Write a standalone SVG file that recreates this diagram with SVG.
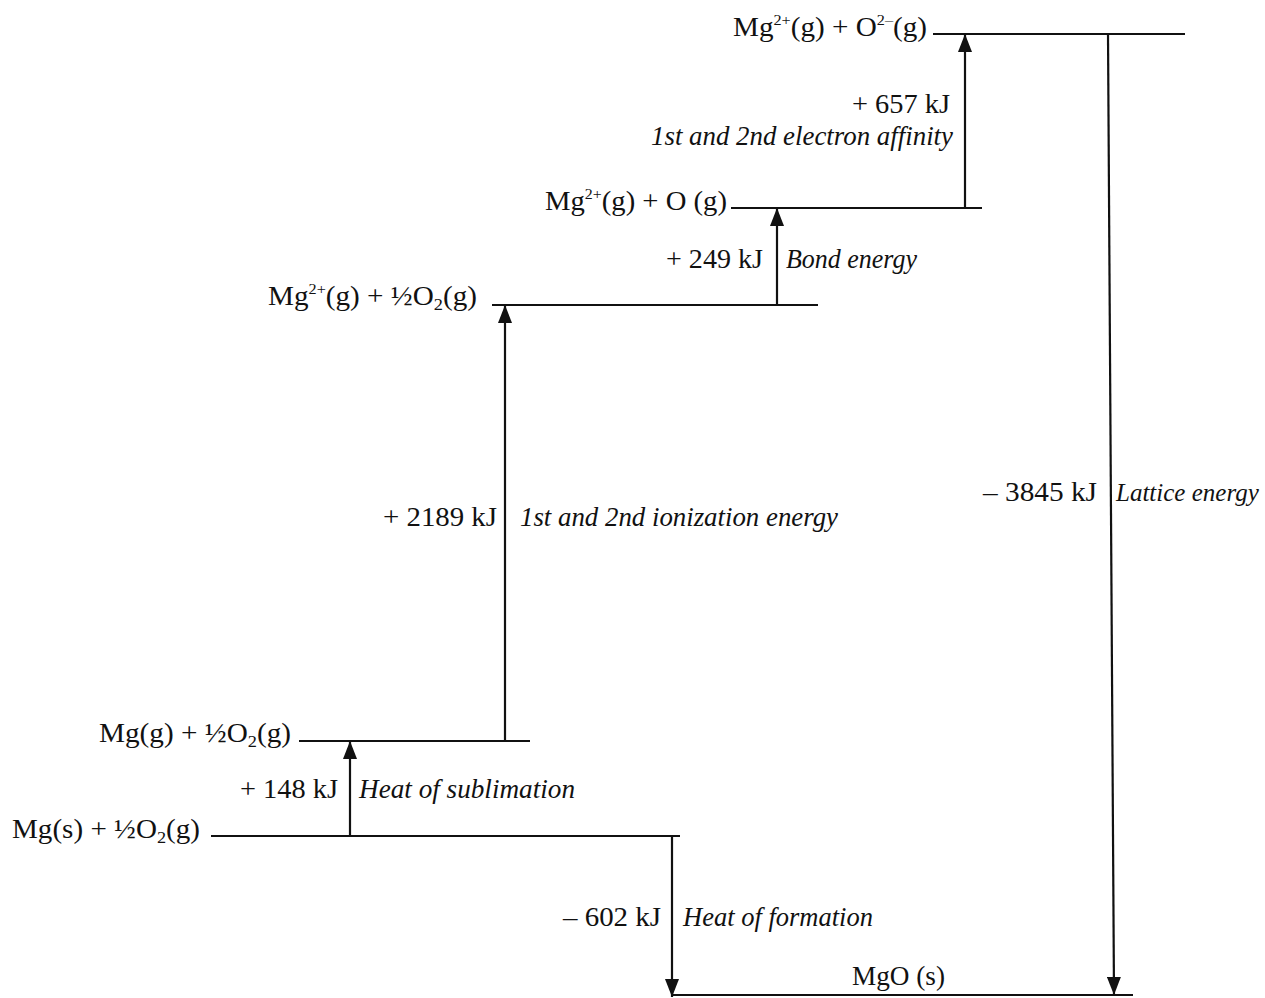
<svg xmlns="http://www.w3.org/2000/svg" width="1265" height="998" viewBox="0 0 1265 998">
<defs>
<style>
text{font-family:"Liberation Serif","Times New Roman",serif;font-size:27px;fill:#111}
.it{font-style:italic}
.sup{font-size:15px}
.sub{font-size:17px}
.lvl{stroke:#111;stroke-width:2.2;fill:none}
.arr{stroke:#111;stroke-width:2.2;fill:none;marker-end:url(#ah)}
</style>
<marker id="ah" viewBox="0 0 18 14" refX="18" refY="7" markerWidth="18" markerHeight="14" markerUnits="userSpaceOnUse" orient="auto">
<path d="M0,0 L18,7 L0,14 z" fill="#111"/>
</marker>
</defs>
<rect width="1265" height="998" fill="#fff"/>

<g id="level-ions">
<line class="lvl" x1="933" y1="34" x2="1185" y2="34"/>
<text x="733" y="36" textLength="194" lengthAdjust="spacingAndGlyphs">Mg<tspan class="sup" dy="-11">2+</tspan><tspan dy="11">(g) + O</tspan><tspan class="sup" dy="-11">2–</tspan><tspan dy="11">(g)</tspan></text>
</g>

<g id="level-atomO">
<line class="lvl" x1="731" y1="208" x2="982" y2="208"/>
<text x="545" y="210" textLength="182" lengthAdjust="spacingAndGlyphs">Mg<tspan class="sup" dy="-11">2+</tspan><tspan dy="11">(g) + O (g)</tspan></text>
</g>

<g id="level-mgion">
<line class="lvl" x1="492" y1="305" x2="818" y2="305"/>
<text x="268" y="305" textLength="209" lengthAdjust="spacingAndGlyphs">Mg<tspan class="sup" dy="-11">2+</tspan><tspan dy="11">(g) + ½O</tspan><tspan class="sub" dy="5">2</tspan><tspan dy="-5">(g)</tspan></text>
</g>

<g id="level-mggas">
<line class="lvl" x1="299" y1="741" x2="530" y2="741"/>
<text x="99" y="742" textLength="192" lengthAdjust="spacingAndGlyphs">Mg(g) + ½O<tspan class="sub" dy="5">2</tspan><tspan dy="-5">(g)</tspan></text>
</g>

<g id="level-mgsolid">
<line class="lvl" x1="211" y1="836" x2="680" y2="836"/>
<text x="12" y="838" textLength="188" lengthAdjust="spacingAndGlyphs">Mg(s) + ½O<tspan class="sub" dy="5">2</tspan><tspan dy="-5">(g)</tspan></text>
</g>

<g id="level-mgo">
<line class="lvl" x1="672" y1="995" x2="1133" y2="995"/>
<text x="852" y="985" textLength="93" lengthAdjust="spacingAndGlyphs">MgO (s)</text>
</g>

<g id="connectors">
<line class="arr" x1="350" y1="836" x2="350" y2="741"/>
<line class="arr" x1="505" y1="741" x2="505" y2="305"/>
<line class="arr" x1="777" y1="305" x2="777" y2="208"/>
<line class="arr" x1="965" y1="208" x2="965" y2="34"/>
<line class="arr" x1="1108" y1="34" x2="1114" y2="995"/>
<line class="arr" x1="672" y1="836" x2="672" y2="997"/>
</g>

<g id="connector-labels">
<text x="852" y="113" textLength="98" lengthAdjust="spacingAndGlyphs">+ 657 kJ</text>
<text class="it" x="651" y="145" textLength="302" lengthAdjust="spacingAndGlyphs">1st and 2nd electron affinity</text>
<text x="666" y="268" textLength="97" lengthAdjust="spacingAndGlyphs">+ 249 kJ</text>
<text class="it" x="786" y="268" textLength="131" lengthAdjust="spacingAndGlyphs">Bond energy</text>
<text x="383" y="526" textLength="114" lengthAdjust="spacingAndGlyphs">+ 2189 kJ</text>
<text class="it" x="520" y="526" textLength="318" lengthAdjust="spacingAndGlyphs">1st and 2nd ionization energy</text>
<text x="983" y="501" textLength="114" lengthAdjust="spacingAndGlyphs">– 3845 kJ</text>
<text class="it" x="1116" y="501" style="font-size:25px">Lattice energy</text>
<text x="240" y="798" textLength="98" lengthAdjust="spacingAndGlyphs">+ 148 kJ</text>
<text class="it" x="359" y="798" textLength="216" lengthAdjust="spacingAndGlyphs">Heat of sublimation</text>
<text x="563" y="926" textLength="98" lengthAdjust="spacingAndGlyphs">– 602 kJ</text>
<text class="it" x="683" y="926" textLength="190" lengthAdjust="spacingAndGlyphs">Heat of formation</text>
</g>
</svg>
